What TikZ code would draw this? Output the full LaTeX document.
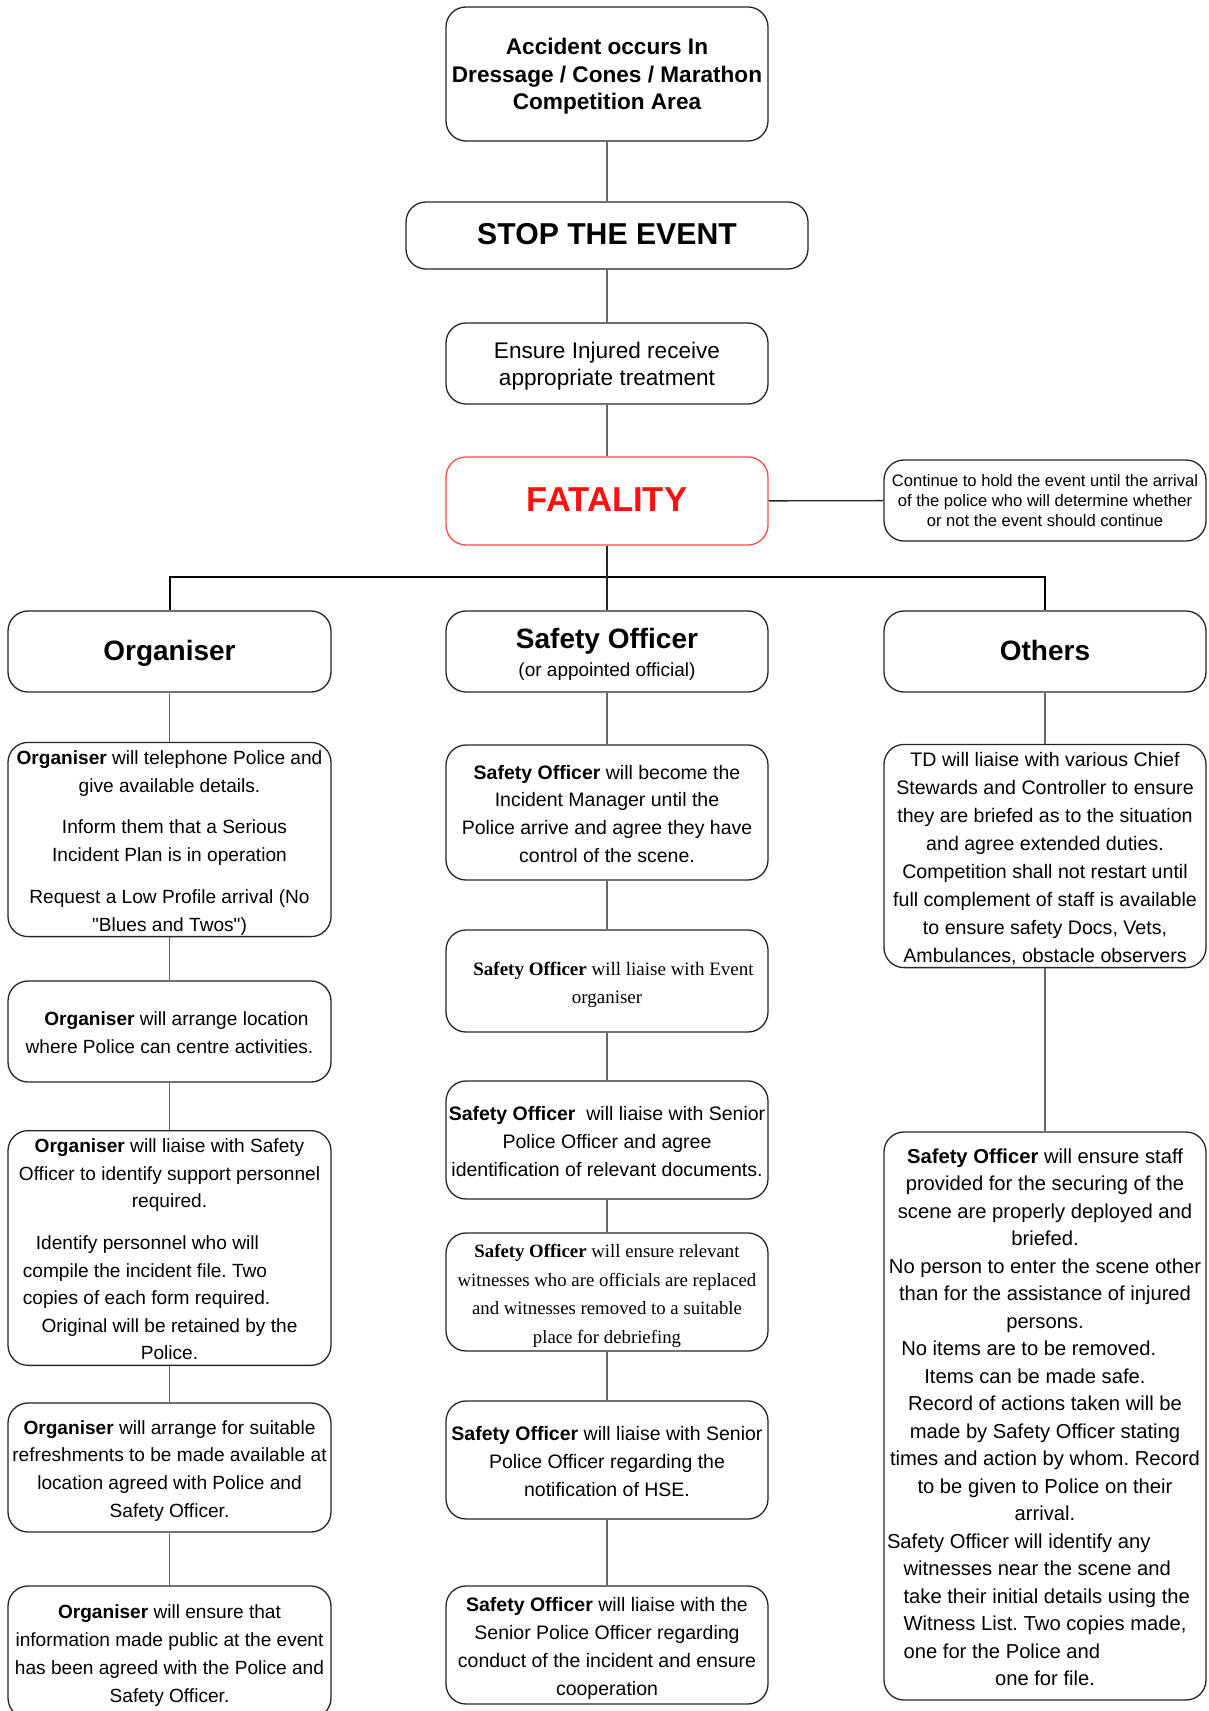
\documentclass[tikz,border=0pt]{standalone}
\usepackage{fontspec}
\setmainfont{Liberation Sans}[Ligatures=TeXOff]
\newfontfamily\timesf{Liberation Serif}[Ligatures=TeXOff]
\definecolor{fatred}{RGB}{255,15,15}
\definecolor{fatborder}{RGB}{250,75,75}
\newcommand{\ms}{\rule[-0.2\baselineskip]{0pt}{\baselineskip}}
\begin{document}
\begin{tikzpicture}[x=1pt,y=-1pt,
  box/.style={draw=black!85, line width=1.3pt, rounded corners=20pt, inner sep=0pt,
    align=center, minimum width=322pt},
  orgbody/.style={font=\frenchspacing\fontsize{19.1pt}{27.8pt}\selectfont},
  sobody/.style={font=\frenchspacing\fontsize{19.5pt}{27.8pt}\selectfont},
  tbody/.style={font=\frenchspacing\timesf\fontsize{19pt}{28.4pt}\selectfont},
  head/.style={font=\bfseries\fontsize{28pt}{30pt}\selectfont, text height=24pt, text depth=7pt},
  link/.style={draw=black!60, line width=1.2pt},
  barline/.style={draw=black, line width=2pt},
]
\path[use as bounding box] (0,0) rectangle (1208,1711);
\fill[white] (0,0) rectangle (1208,1711);
\clip (0,0) rectangle (1208,1711);

% top chain
\node[box, minimum height=134pt, font=\bfseries\fontsize{22.6pt}{27.3pt}\selectfont] (acc) at (607,74)
  {\ms Accident occurs In\\ Dressage / Cones / Marathon\\ Competition Area\ms};
\node[box, minimum width=402pt, minimum height=67pt, text height=24.6pt, text depth=7pt,
  font=\bfseries\fontsize{30.2pt}{34pt}\selectfont] (stop) at (607,235.5)
  {STOP THE EVENT};
\node[box, minimum height=81pt, font=\fontsize{22.6pt}{27.3pt}\selectfont] (ensure) at (607,363.5)
  {\ms Ensure Injured receive\\ appropriate treatment\ms};
\node[box, draw=fatborder, minimum height=88pt, text=fatred, text height=28.2pt, text depth=8pt,
  font=\bfseries\fontsize{34.6pt}{38pt}\selectfont] (fatal) at (607,501)
  {FATALITY};
\node[box, minimum height=81pt, font=\fontsize{16.6pt}{20.2pt}\selectfont] (cont) at (1045,500.5)
  {\ms Continue to hold the event until the arrival\\ of the police who will determine whether\\ or not the event should continue\ms};

% headers
\node[box, minimum width=323pt, minimum height=81pt, head] (orgH) at (169.5,651.5) {Organiser};
\node[box, minimum height=81pt, font=\fontsize{19pt}{28pt}\selectfont] (soH) at (607,651.5)
  {{\bfseries\fontsize{28pt}{28pt}\selectfont\rule{0pt}{26pt}Safety Officer}\\ (or appointed official)\rule[-5pt]{0pt}{5pt}};
\node[box, minimum height=81pt, head] (othH) at (1045,651.5) {Others};

% Organiser column
\node[box, orgbody, minimum width=323pt, minimum height=189pt] (org1) at (169.5,839.5)
  {\ms\textbf{Organiser} will telephone Police and\\ give available details.\\[13.7pt]
   \hspace*{10pt}Inform them that a Serious\\ Incident Plan is in operation\\[13.7pt]
   Request a Low Profile arrival (No\\ "Blues and Twos")\ms};
\node[box, orgbody, minimum width=323pt, minimum height=101pt] (org2) at (169.5,1031.5)
  {\ms\hspace*{14pt}\textbf{Organiser} will arrange location\\ where Police can centre activities.\ms};
\node[box, minimum width=323pt, minimum height=232pt, font=\frenchspacing\fontsize{19.1pt}{27.5pt}\selectfont] (org3) at (169.5,1248)
  {\ms\textbf{Organiser} will liaise with Safety\\ Officer to identify support personnel\\ required.\\[14.7pt]
   \makebox[293.2pt][l]{\hspace*{13pt}Identify personnel who will}\\
   \makebox[293.2pt][l]{compile the incident file. Two}\\
   \makebox[293.2pt][l]{copies of each form required.}\\
   Original will be retained by the\\ Police.\ms};
\node[box, orgbody, minimum width=323pt, minimum height=129pt] (org4) at (169.5,1467.5)
  {\ms\textbf{Organiser} will arrange for suitable\\ refreshments to be made available at\\
   location agreed with Police and\\ Safety Officer.\ms};
\node[box, orgbody, minimum width=323pt, minimum height=132pt] (org5) at (169.5,1652)
  {\ms\textbf{Organiser} will ensure that\\ information made public at the event\\
   has been agreed with the Police and\\ Safety Officer.\ms};

% Safety Officer column
\node[box, sobody, minimum height=135pt] (so1) at (607,812.5)
  {\ms\textbf{Safety Officer} will become the\\ Incident Manager until the\\
   Police arrive and agree they have\\ control of the scene.\ms};
\node[box, tbody, minimum height=102pt] (so2) at (607,981)
  {\ms\hspace*{13pt}\textbf{Safety Officer} will liaise with Event\\ organiser\ms};
\node[box, sobody, minimum height=118pt] (so3) at (607,1140)
  {\ms\textbf{Safety Officer}\ \ will liaise with Senior\\ Police Officer and agree\\
   identification of relevant documents.\ms};
\node[box, minimum height=118pt, font=\frenchspacing\timesf\fontsize{18.8pt}{28.4pt}\selectfont] (so4) at (607,1292)
  {\ms\textbf{Safety Officer} will ensure relevant\\ witnesses who are officials are replaced\\
   and witnesses removed to a suitable\\ place for debriefing\ms};
\node[box, sobody, minimum height=118pt] (so5) at (607,1460)
  {\ms\textbf{Safety Officer} will liaise with Senior\\ Police Officer regarding the\\
   notification of HSE.\ms};
\node[box, sobody, minimum height=118pt] (so6) at (607,1645)
  {\ms\textbf{Safety Officer} will liaise with the\\ Senior Police Officer regarding\\
   conduct of the incident and ensure\\ cooperation\ms};

% Others column
\node[box, minimum height=222pt, font=\frenchspacing\fontsize{19.6pt}{27.9pt}\selectfont] (oth1) at (1045,856)
  {\ms TD will liaise with various Chief\\ Stewards and Controller to ensure\\
   they are briefed as to the situation\\ and agree extended duties.\\
   Competition shall not restart until\\ full complement of staff is available\\
   to ensure safety Docs, Vets,\\ Ambulances, obstacle observers\ms};
\node[box, minimum height=568pt, font=\frenchspacing\fontsize{20.2pt}{27.5pt}\selectfont] (oth2) at (1045,1416)
  {\ms\textbf{Safety Officer} will ensure staff\\ provided for the securing of the\\
   scene are properly deployed and\\ briefed.\\
   No person to enter the scene other\\ than for the assistance of injured\\ persons.\\
   \makebox[287.4pt][l]{No items are to be removed.}\\
   \makebox[241.4pt][l]{Items can be made safe.}\\
   Record of actions taken will be\\ made by Safety Officer stating\\
   times and action by whom. Record\\ to be given to Police on their\\ arrival.\\
   \makebox[316pt][l]{Safety Officer will identify any}\\
   \makebox[316pt][l]{\hspace*{16.6pt}witnesses near the scene and}\\
   \makebox[316pt][l]{\hspace*{16.6pt}take their initial details using the}\\
   \makebox[316pt][l]{\hspace*{16.6pt}Witness List. Two copies made,}\\
   \makebox[316pt][l]{\hspace*{16.6pt}one for the Police and}\\
   one for file.\ms};

% connectors
\coordinate (bar) at (607,577);
\draw[link] (acc) -- (stop);
\draw[link] (stop) -- (ensure);
\draw[link] (ensure) -- (fatal);
\draw[draw=black!85, line width=1.4pt] (fatal) -- (cont);
\draw[barline] (orgH.north) |- (bar) -| (othH.north);
\draw[draw=black!85, line width=1.4pt] (fatal) -- (soH);

\draw[link] (orgH) -- (org1);
\draw[link] (org1) -- (org2);
\draw[link] (org2) -- (org3);
\draw[link] (org3) -- (org4);
\draw[link] (org4) -- (org5);

\draw[link] (soH) -- (so1);
\draw[link] (so1) -- (so2);
\draw[link] (so2) -- (so3);
\draw[link] (so3) -- (so4);
\draw[link] (so4) -- (so5);
\draw[link] (so5) -- (so6);

\draw[link] (othH) -- (oth1);
\draw[link] (oth1) -- (oth2);
\end{tikzpicture}
\end{document}
